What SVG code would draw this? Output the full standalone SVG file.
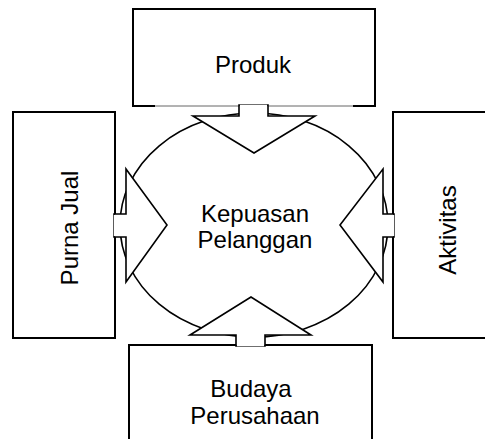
<svg xmlns="http://www.w3.org/2000/svg" width="485" height="439" viewBox="0 0 485 439">
<style>
.box{fill:#fff;stroke:#000;stroke-width:2}
.arr{fill:#fff;stroke:#000;stroke-width:1.6;stroke-linejoin:miter}
.ell{fill:#fff;stroke:#000;stroke-width:1.6}
.t{font-family:"Liberation Sans",Arial,sans-serif;font-size:24px;fill:#000;text-anchor:middle}
</style>
<rect width="485" height="439" fill="#fff"/>
<g id="center">
<ellipse class="ell" cx="254" cy="225" rx="134" ry="112"/>
<text class="t" x="255" y="222">Kepuasan</text>
<text class="t" x="255" y="248">Pelanggan</text>
</g>
<g id="produk">
<rect class="box" x="133" y="9" width="242" height="97"/>
<text class="t" x="253" y="73">Produk</text>
</g>
<g id="purna-jual">
<rect class="box" x="13" y="112" width="102" height="226"/>
<text class="t" transform="translate(78,228) rotate(-90)">Purna Jual</text>
</g>
<g id="aktivitas">
<rect class="box" x="393" y="112" width="100" height="226"/>
<text class="t" transform="translate(456,230) rotate(-90)">Aktivitas</text>
</g>
<g id="budaya">
<rect class="box" x="129" y="345" width="243" height="100"/>
<text class="t" x="251" y="397">Budaya</text>
<text class="t" x="255" y="424">Perusahaan</text>
</g>
<g id="connectors">
<path d="M155 106H353" stroke="#fff" stroke-width="3"/>
<path d="M155 106H353" stroke="#666" stroke-width="1"/>
<polygon class="arr" points="239,105 239,116 193,116 254,153 315,116 268,116 268,105"/>
<path d="M239 106.5V116M268 106.5V116" stroke="#fff" stroke-width="0"/>
<polygon class="arr" points="114,214 126,214 126,169 167,225 126,282 126,237 114,237"/>
<polygon class="arr" points="394,214 383,214 383,169 340,225 383,282 383,237 394,237"/>
<polygon class="arr" points="236,346 236,335 190,335 251,297 311,335 265,335 265,346"/>
<path d="M239.8 106V115M267.2 106V115" stroke="#fff" stroke-width="0"/>
<path d="M115 215V236M393 215V236M237 345H264M240 106H267" stroke="#fff" stroke-width="2.4"/>
</g>
</svg>
